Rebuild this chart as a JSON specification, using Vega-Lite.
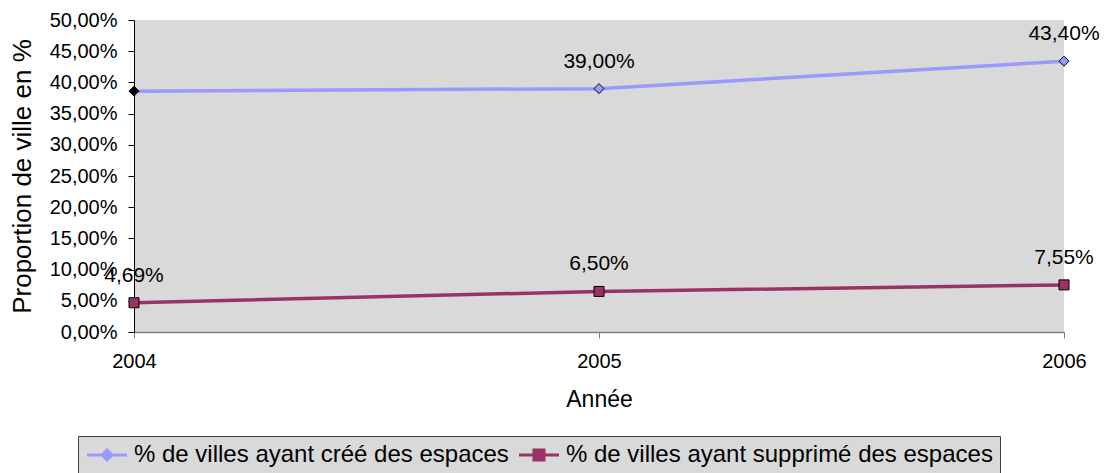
{
  "$schema": "https://vega.github.io/schema/vega-lite/v6.json",
  "width": 930,
  "height": 312,
  "autosize": {"type": "none"},
  "padding": {"left": 134, "top": 20, "right": 40, "bottom": 141},
  "background": "#ffffff",
  "config": {
    "font": "Liberation Sans",
    "locale": {"number": {"decimal": ",", "thousands": " ", "grouping": [3], "currency": ["", " €"]}},
    "view": {"fill": "#d9d9d9", "stroke": null}
  },
  "data": {
    "values": [
      {"serie": "% de villes ayant créé des espaces", "annee": "2004", "valeur": 0.386},
      {"serie": "% de villes ayant créé des espaces", "annee": "2005", "valeur": 0.39},
      {"serie": "% de villes ayant créé des espaces", "annee": "2006", "valeur": 0.434},
      {"serie": "% de villes ayant supprimé des espaces", "annee": "2004", "valeur": 0.0469},
      {"serie": "% de villes ayant supprimé des espaces", "annee": "2005", "valeur": 0.065},
      {"serie": "% de villes ayant supprimé des espaces", "annee": "2006", "valeur": 0.0755}
    ]
  },
  "encoding": {
    "x": {
      "field": "annee", "type": "ordinal",
      "scale": {"type": "point", "padding": 0},
      "axis": {
        "title": "Année", "labelAngle": 0,
        "labelOverlap": false, "labelFlush": false, "labelBound": false,
        "grid": false, "domainColor": "#808080", "domainWidth": 1.5, "tickColor": "#808080", "tickSize": 6,
        "labelFontSize": 20, "labelColor": "#000", "labelPadding": 13,
        "titleFontSize": 23, "titleFontWeight": "normal", "titleColor": "#000", "titlePadding": 17
      }
    },
    "y": {
      "field": "valeur", "type": "quantitative",
      "scale": {"domain": [0, 0.5], "nice": false},
      "axis": {
        "values": [0, 0.05, 0.1, 0.15, 0.2, 0.25, 0.3, 0.35, 0.4, 0.45, 0.5],
        "format": ".2%", "title": "Proportion de ville en %",
        "labelOverlap": false, "labelFlush": false,
        "grid": false, "domainColor": "#000", "domainWidth": 1, "tickColor": "#000", "tickSize": 6,
        "labelFontSize": 20, "labelColor": "#000", "labelPadding": 11,
        "titleFontSize": 26, "titleFontWeight": "normal", "titleColor": "#000", "titlePadding": 14
      }
    }
  },
  "layer": [
    {
      "mark": {"type": "line", "strokeWidth": 3.5},
      "encoding": {
        "color": {
          "field": "serie", "type": "nominal",
          "scale": {"range": ["#9999ff", "#993366"]},
          "legend": {
            "title": null, "orient": "none", "legendX": -56, "legendY": 416,
            "direction": "horizontal", "fillColor": "#d9d9d9", "strokeColor": "#404040",
            "padding": 7, "symbolSize": 400, "symbolStrokeWidth": 3,
            "labelFontSize": 24, "labelColor": "#000", "labelOffset": 25, "columnPadding": 4,
            "labelLimit": 600,
            "encode": {
              "symbols": {
                "update": {
                  "shape": {"signal": "datum.value === '% de villes ayant créé des espaces' ? 'M-1,0H0.5M1.5,0H3M0.5,0L1,-0.5L1.5,0L1,0.5Z' : 'M-1,0H0.5M1.5,0H3M0.5,-0.5H1.5V0.5H0.5Z'"},
                  "fill": {"scale": "color", "field": "value"},
                  "fillOpacity": {"value": 1}
                }
              }
            }
          }
        }
      }
    },
    {
      "mark": {"type": "point", "filled": true, "size": 100, "stroke": "#000", "strokeWidth": 1, "opacity": 1},
      "encoding": {
        "shape": {
          "field": "serie", "type": "nominal",
          "scale": {"range": ["diamond", "square"]},
          "legend": null
        },
        "fill": {
          "condition": {"test": "datum.annee === '2004' && datum.serie === '% de villes ayant créé des espaces'", "value": "#000"},
          "field": "serie", "type": "nominal", "scale": {"range": ["#9999ff", "#993366"]}, "legend": null
        }
      }
    },
    {
      "transform": [{"filter": "!(datum.annee === '2004' && datum.serie === '% de villes ayant créé des espaces')"}],
      "mark": {"type": "text", "dy": -27, "fontSize": 21, "color": "#000", "baseline": "middle"},
      "encoding": {
        "text": {"field": "valeur", "type": "quantitative", "format": ".2%"}
      }
    }
  ]
}
